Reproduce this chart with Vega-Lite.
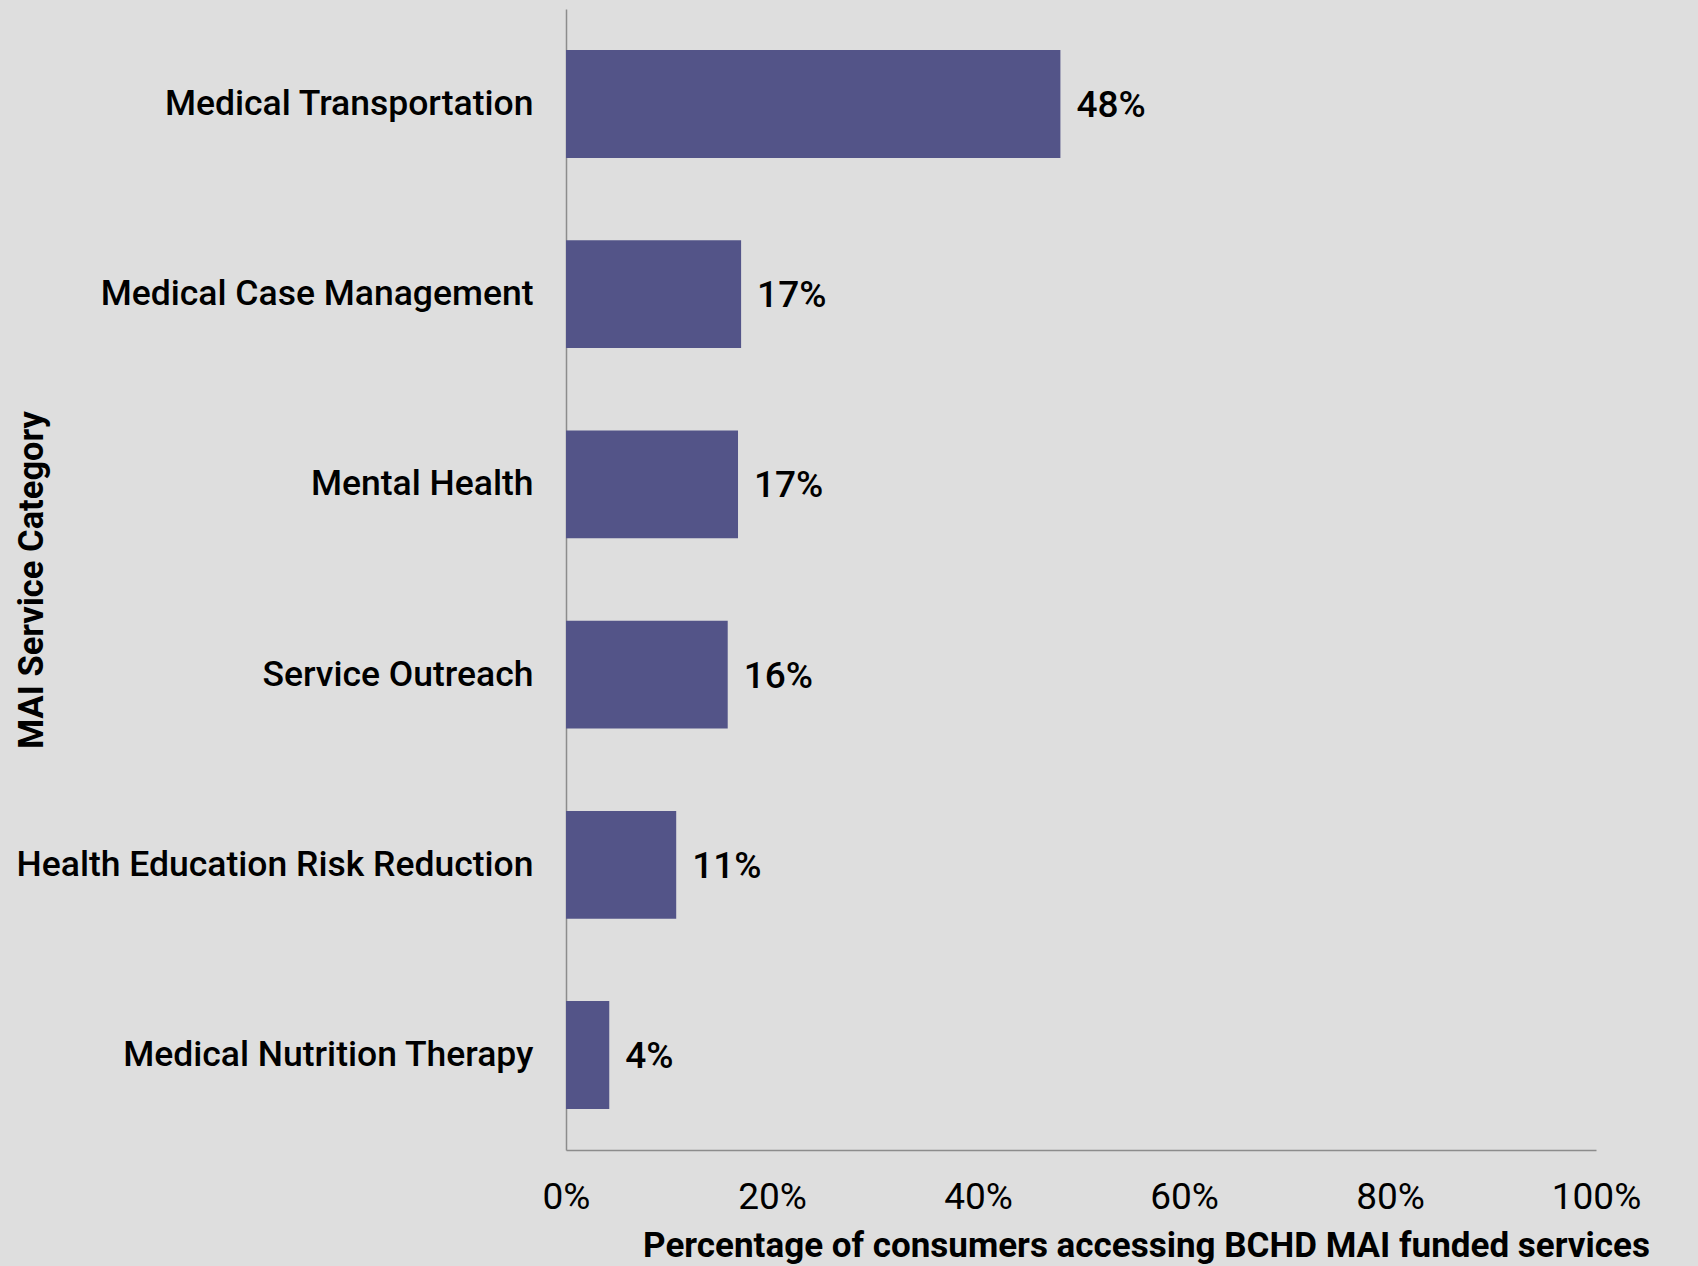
{
  "$schema": "https://vega.github.io/schema/vega-lite/v6.json",
  "width": 1030,
  "height": 1141,
  "autosize": {"type": "none"},
  "padding": {"left": 566, "top": 9, "right": 102, "bottom": 116},
  "background": "#dedede",
  "config": {"view": {"stroke": null}, "font": "Roboto"},
  "data": {
    "values": [
      {"category": "Medical Transportation", "pct": 0.48},
      {"category": "Medical Case Management", "pct": 0.17},
      {"category": "Mental Health", "pct": 0.167},
      {"category": "Service Outreach", "pct": 0.157},
      {"category": "Health Education Risk Reduction", "pct": 0.107},
      {"category": "Medical Nutrition Therapy", "pct": 0.042}
    ]
  },
  "encoding": {
    "y": {
      "field": "category",
      "type": "nominal",
      "sort": null,
      "scale": {"paddingInner": 0.433, "paddingOuter": 0.216},
      "axis": {
        "title": "MAI Service Category",
        "titleFont": "Roboto",
        "titleFontSize": 34.5,
        "titleFontWeight": "bold",
        "titleColor": "#000000",
        "titleX": -534,
        "titleAngle": -90,
        "titleAlign": "center",
        "titleBaseline": "middle",
        "labelFont": "Roboto",
        "labelFontSize": 35.5,
        "labelFontWeight": 500,
        "labelColor": "#000000",
        "labelPadding": 33,
        "labelLimit": 0,
        "ticks": false,
        "grid": false,
        "domainColor": "#8c8c8c",
        "domainWidth": 1.5
      }
    },
    "x": {
      "field": "pct",
      "type": "quantitative",
      "scale": {"domain": [0, 1]},
      "axis": {
        "title": "Percentage of consumers accessing BCHD MAI funded services",
        "titleFont": "Roboto",
        "titleFontSize": 35,
        "titleFontWeight": "bold",
        "titleColor": "#000000",
        "titleX": 580,
        "titleY": 106,
        "titleAlign": "center",
        "titleBaseline": "alphabetic",
        "format": ".0%",
        "values": [0, 0.2, 0.4, 0.6, 0.8, 1],
        "labelFont": "Roboto",
        "labelFontSize": 37,
        "labelColor": "#000000",
        "labelPadding": 47,
        "labelBaseline": "middle",
        "labelFlush": false,
        "ticks": false,
        "grid": false,
        "domainColor": "#8c8c8c",
        "domainWidth": 1.5
      }
    }
  },
  "layer": [
    {"mark": {"type": "bar", "color": "#535488"}},
    {
      "mark": {"type": "text", "align": "left", "baseline": "middle", "dx": 16, "dy": 2, "fontSize": 37, "fontWeight": 500, "color": "#000000", "font": "Roboto"},
      "encoding": {"text": {"field": "pct", "type": "quantitative", "format": ".0%"}}
    }
  ]
}
